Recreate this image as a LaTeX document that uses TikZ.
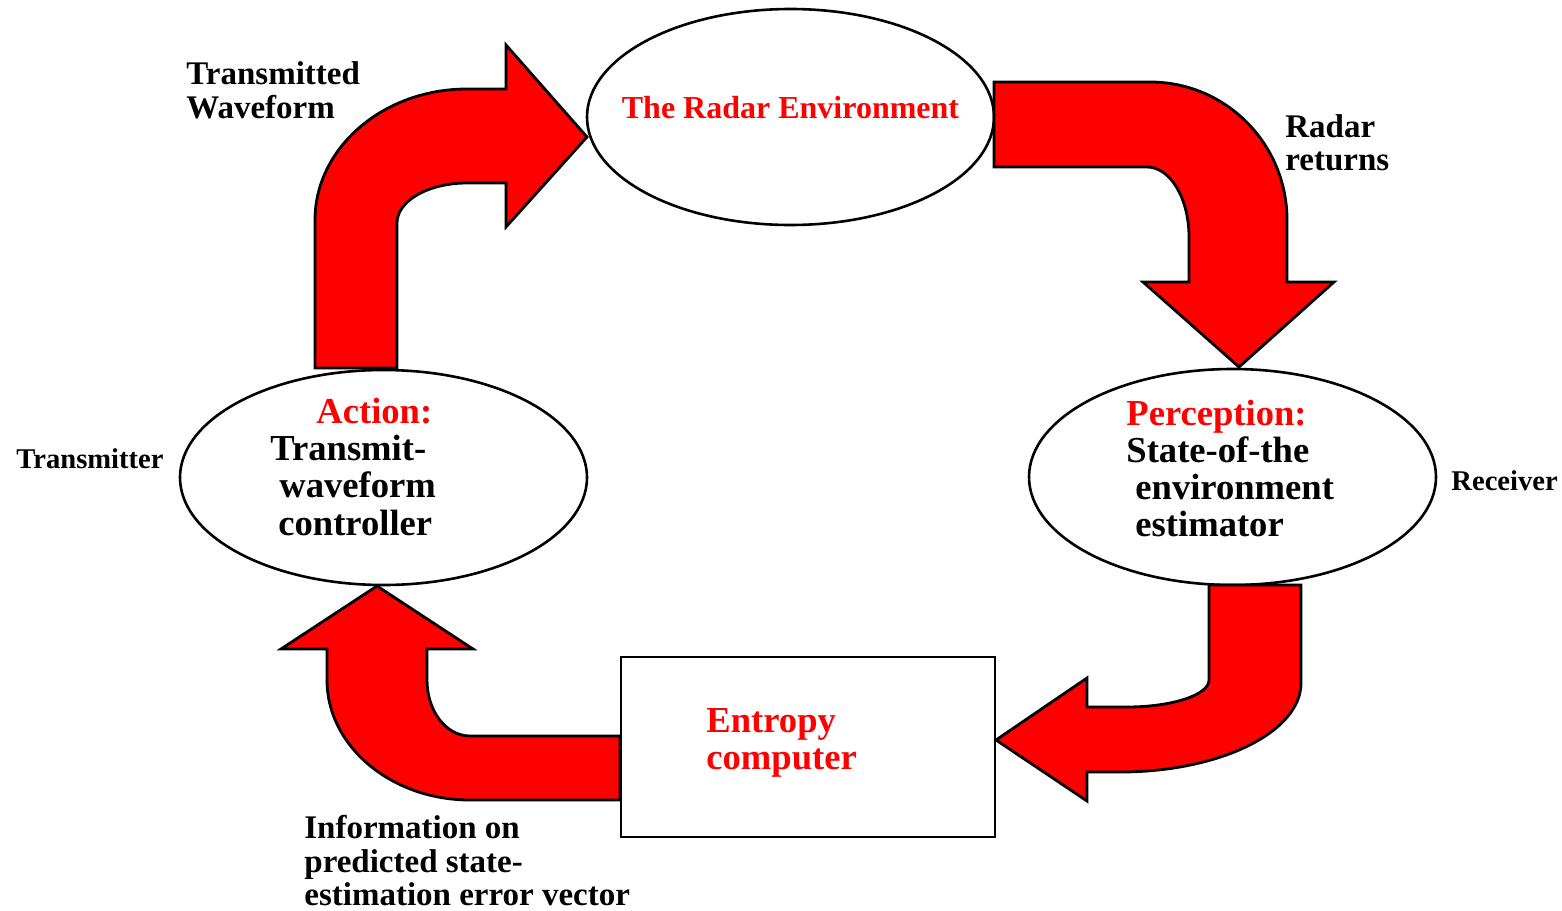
\documentclass[tikz,border=0pt]{standalone}
\usepackage{fontspec}
\setmainfont{Liberation Serif}
\usetikzlibrary{shapes.geometric}
\begin{document}
\begin{tikzpicture}[x=0.5pt,y=-0.5pt,
  blob/.style={ellipse,draw=black,line width=1.3pt,fill=white,inner sep=0pt},
  box/.style={rectangle,draw=black,line width=1.3pt,fill=white,inner sep=0pt},
  bigarrow/.style={fill=red,draw=black,line width=1.4pt,line join=miter},
  lbl/.style={anchor=base west,inner sep=0pt,font=\bfseries\fontsize{16.5}{19}\selectfont},
  inlbl/.style={anchor=base west,inner sep=0pt,font=\bfseries\fontsize{18.3}{21}\selectfont},
  smalllbl/.style={anchor=base west,inner sep=0pt,font=\bfseries\fontsize{14.3}{17}\selectfont},
  hot/.style={text=red},
]
\useasboundingbox (0,0) rectangle (1562,910);

% main blocks
\node[blob,minimum width=203.5pt,minimum height=108pt] (env) at (790.5,117) {};
\node[blob,minimum width=203.5pt,minimum height=107.5pt] (act) at (383.5,477.5) {};
\node[blob,minimum width=203.5pt,minimum height=108pt] (per) at (1232.5,477) {};
\node[box,minimum width=187pt,minimum height=90pt] (ent) at (808,747) {};

% block arrows
\draw[bigarrow] (315,368) -- (315,220) .. controls (315,148) and (383,89) .. (467,89)
  -- (506,89) -- (506,45) -- (587,137) -- (506,227) -- (506,183) -- (467,183)
  .. controls (428,183) and (397,201) .. (397,223) -- (397,368) -- cycle;

\draw[bigarrow] (994,82) -- (1150,82) .. controls (1226,82) and (1287,144) .. (1287,220)
  -- (1287,282) -- (1334,282) -- (1239,367) -- (1143,282) -- (1189,282) -- (1189,237)
  .. controls (1189,198) and (1170,167) .. (1147,167) -- (994,167) -- cycle;

\draw[bigarrow] (1209,585) -- (1301,585) -- (1301,683) .. controls (1301,732) and (1220,772) .. (1120,772)
  -- (1087,772) -- (1087,801) -- (996,740) -- (1087,678) -- (1087,707) -- (1127,707)
  .. controls (1172,707) and (1209,695) .. (1209,680) -- cycle;

\draw[bigarrow] (620,736) -- (470,736) .. controls (446,736) and (427,711) .. (427,680)
  -- (427,649) -- (473,649) -- (377,586) -- (281,649) -- (327,649) -- (327,680)
  .. controls (327,746) and (391,800) .. (470,800) -- (620,800) -- cycle;

% texts
\node[lbl,hot,anchor=base,font=\bfseries\fontsize{16}{19}\selectfont] (envt) at (790.5,118) {The Radar Environment};

\node[lbl] (tw1) at (186,84) {Transmitted};
\node[lbl] (tw2) at (186,118) {Waveform};

\node[lbl] (rr1) at (1285,137) {Radar};
\node[lbl] (rr2) at (1285,170) {returns};

\node[inlbl,hot] (a1) at (316,423) {Action:};
\node[inlbl] (a2) at (270,460) {Transmit-};
\node[inlbl] (a3) at (279,497) {waveform};
\node[inlbl] (a4) at (278,535) {controller};

\node[inlbl,hot] (p1) at (1126,425) {Perception:};
\node[inlbl] (p2) at (1126,462) {State-of-the};
\node[inlbl] (p3) at (1135,499) {environment};
\node[inlbl] (p4) at (1135,536) {estimator};

\node[smalllbl] (tx) at (16,468) {Transmitter};
\node[smalllbl] (rx) at (1451,490) {Receiver};

\node[inlbl,hot] (e1) at (706,732) {Entropy};
\node[inlbl,hot] (e2) at (706,769) {computer};

\node[lbl] (i1) at (304,838) {Information on};
\node[lbl] (i2) at (304,872) {predicted state-};
\node[lbl] (i3) at (304,905) {estimation error vector};
\end{tikzpicture}
\end{document}
